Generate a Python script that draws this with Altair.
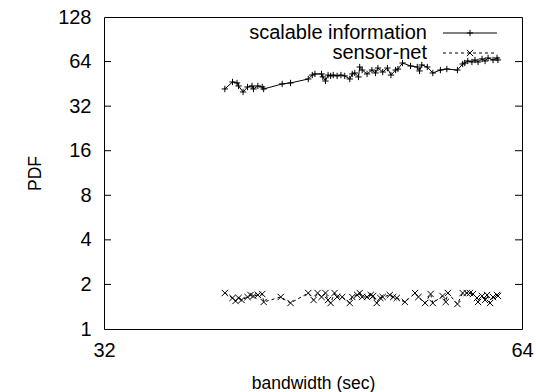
import altair as alt
import pandas as pd

# ---- data ----
si_x = [39.1, 39.6, 39.9, 40.0, 40.3, 40.6, 40.9, 41.0, 41.3, 41.6, 41.7, 43.0, 43.6, 44.9,
        45.2, 45.4, 45.9, 46.0, 46.2, 46.4, 46.6, 46.8, 47.1, 47.4, 47.7, 48.1, 48.3, 48.5,
        48.8, 48.9, 49.1, 49.5, 49.9, 50.2, 50.4, 50.8, 51.2, 51.5, 51.9, 52.1, 52.5, 53.2,
        53.8, 54.0, 54.2, 54.7, 55.2, 55.9, 56.5, 57.5, 58.0, 58.2, 58.5, 58.9, 59.2, 59.5,
        59.9, 60.2, 60.5, 61.0, 61.4, 61.5]
si_y = [41.8, 46.6, 45.9, 43.8, 39.9, 43.1, 43.8, 41.8, 43.8, 43.1, 41.8, 45.2, 45.9, 48.8,
        51.9, 52.8, 52.8, 50.4, 47.3, 51.9, 51.2, 51.9, 51.2, 51.9, 51.2, 48.8, 52.8, 53.6,
        50.4, 58.8, 56.1, 52.8, 56.1, 53.6, 57.9, 54.4, 57.9, 51.9, 56.1, 57.0, 62.6, 59.8,
        58.8, 55.3, 60.7, 58.8, 53.6, 56.1, 57.0, 56.1, 61.6, 62.6, 64.6, 63.6, 65.6, 63.6,
        66.7, 64.6, 67.7, 65.6, 67.7, 65.6]

sn_x = [39.1, 39.6, 39.8, 40.0, 40.2, 40.6, 40.8, 41.0, 41.3, 41.6, 41.7, 42.9, 43.6, 44.9,
        45.3, 45.6, 45.9, 46.2, 46.4, 46.6, 46.9, 47.1, 47.5, 48.1, 48.3, 48.7, 48.9, 49.1,
        49.5, 49.8, 50.0, 50.3, 50.6, 50.8, 51.4, 51.7, 52.0, 52.7, 53.6, 53.9, 54.5, 55.0,
        55.2, 56.1, 56.4, 56.6, 57.5, 58.0, 58.4, 58.7, 59.0, 59.4, 59.5, 59.9, 60.2, 60.4,
        60.7, 61.0, 61.4, 61.5]
sn_y = [1.750, 1.620, 1.546, 1.620, 1.570, 1.645, 1.697, 1.671, 1.697, 1.723, 1.522, 1.645,
        1.498, 1.750, 1.570, 1.750, 1.645, 1.750, 1.570, 1.498, 1.750, 1.645, 1.645, 1.498,
        1.645, 1.697, 1.750, 1.645, 1.645, 1.697, 1.671, 1.498, 1.620, 1.645, 1.697, 1.645,
        1.620, 1.522, 1.750, 1.645, 1.498, 1.723, 1.498, 1.671, 1.522, 1.750, 1.475, 1.750,
        1.750, 1.750, 1.723, 1.620, 1.522, 1.671, 1.570, 1.697, 1.498, 1.645, 1.697, 1.671]

y_ticks = [1, 2, 4, 8, 16, 32, 64, 128]
x_ticks = [32, 64]
series_names = ["scalable information", "sensor-net"]

FONT = "Liberation Sans"
FS = 20
TFS = 17.5

PLUS = "M-1,0L1,0M0,-1L0,1"
CROSS = "M-1,-1L1,1M-1,1L1,-1"

xscale = alt.Scale(type="log", base=2, domain=[32, 64], nice=False)
yscale = alt.Scale(type="log", base=2, domain=[1, 128], nice=False)

X = alt.X("bw:Q", scale=xscale,
          axis=alt.Axis(values=x_ticks, format="d", title="bandwidth (sec)", grid=False,
                        ticks=False, domain=False, labelPadding=11, titlePadding=14,
                        labelFlush=False, labelOverlap=False,
                        labelFont=FONT, titleFont=FONT, labelFontSize=FS, titleFontSize=TFS,
                        titleFontWeight="normal", labelColor="black", titleColor="black"))
Y = alt.Y("pdf:Q", scale=yscale,
          axis=alt.Axis(values=y_ticks, format="d", title="PDF", grid=False,
                        ticks=False, domain=False, labelPadding=13, titlePadding=13,
                        labelFlush=False, labelOverlap=False,
                        labelFont=FONT, titleFont=FONT, labelFontSize=FS, titleFontSize=TFS,
                        titleFontWeight="normal", labelColor="black", titleColor="black"))

si = pd.DataFrame({"bw": si_x, "pdf": si_y})
sn = pd.DataFrame({"bw": sn_x, "pdf": sn_y})
ticks_df = pd.DataFrame({"pdf": y_ticks[1:-1]})

si_line = alt.Chart(si).mark_line(color="black", strokeWidth=1).encode(x=X, y=Y)
si_pts = alt.Chart(si).mark_point(shape=PLUS, size=40, color="black", strokeWidth=1,
                                  filled=False, opacity=1).encode(x=X, y=Y)
sn_line = alt.Chart(sn).mark_line(color="black", strokeWidth=1, strokeDash=[3, 3]).encode(x=X, y=Y)
sn_pts = alt.Chart(sn).mark_point(shape=CROSS, size=40, color="black", strokeWidth=1,
                                  filled=False, opacity=1).encode(x=X, y=Y)

tick_l = alt.Chart(ticks_df).mark_rule(color="black", strokeWidth=1).encode(
    y=Y, x=alt.value(0), x2=alt.value(7))
tick_r = alt.Chart(ticks_df).mark_rule(color="black", strokeWidth=1).encode(
    y=Y, x=alt.value(411), x2=alt.value(418))

leg1 = pd.DataFrame({"label": [series_names[0]]})
leg2 = pd.DataFrame({"label": [series_names[1]]})

l1_text = alt.Chart(leg1).mark_text(align="right", baseline="middle", font=FONT, fontSize=FS,
                                    color="black").encode(text="label:N", x=alt.value(323), y=alt.value(16))
l1_line = alt.Chart(leg1).mark_rule(color="black", strokeWidth=1).encode(
    x=alt.value(339), x2=alt.value(393), y=alt.value(16))
l1_pt = alt.Chart(leg1).mark_point(shape=PLUS, size=40, color="black", strokeWidth=1,
                                   filled=False, opacity=1).encode(x=alt.value(366), y=alt.value(16))

l2_text = alt.Chart(leg2).mark_text(align="right", baseline="middle", font=FONT, fontSize=FS,
                                    color="black").encode(text="label:N", x=alt.value(323), y=alt.value(36))
l2_line = alt.Chart(leg2).mark_rule(color="black", strokeWidth=1, strokeDash=[3, 3]).encode(
    x=alt.value(339), x2=alt.value(393), y=alt.value(36))
l2_pt = alt.Chart(leg2).mark_point(shape=CROSS, size=40, color="black", strokeWidth=1,
                                   filled=False, opacity=1).encode(x=alt.value(366), y=alt.value(36))

chart = alt.layer(
    si_line, si_pts, sn_line, sn_pts, tick_l, tick_r,
    l1_text, l1_line, l1_pt, l2_text, l2_line, l2_pt
).properties(
    width=418, height=312,
    autosize=alt.AutoSizeParams(type="none"),
    padding={"left": 104, "top": 17, "right": 14, "bottom": 63},
    background="white",
).configure_view(stroke="black", strokeWidth=1)

chart.save("out.html", embed_options={"renderer": "svg", "actions": False})
